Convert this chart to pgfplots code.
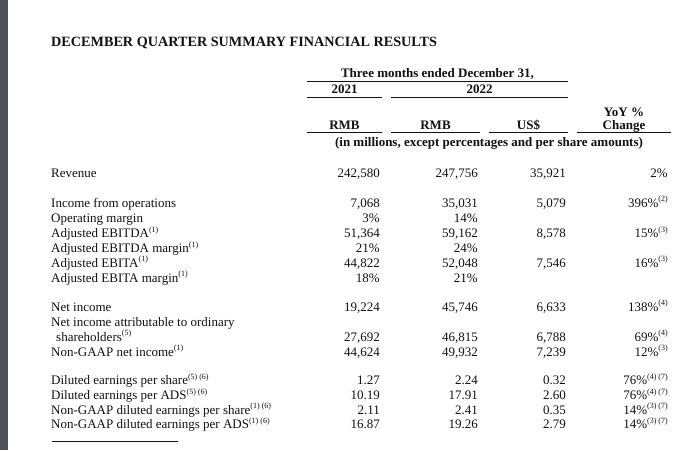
\documentclass[border=0pt]{standalone}
\usepackage{pgfplots}
\pgfplotsset{compat=1.18}
\usepackage{fontspec}
\setmainfont{Liberation Serif}
\definecolor{band}{RGB}{78,82,86}
\definecolor{txt}{RGB}{18,18,18}
\newcommand\sps[1]{\raisebox{0.42em}{\fontsize{8}{8}\selectfont #1}}
\tikzset{
  lab/.style={anchor=base west,inner sep=0pt,text=txt,font=\fontsize{13}{15}\selectfont},
  num/.style={anchor=base east,inner sep=0pt,text=txt,font=\fontsize{13}{15}\selectfont},
  hd/.style={anchor=base,inner sep=0pt,text=txt,font=\bfseries\fontsize{13}{15}\selectfont},
  rl/.style={line width=0.9pt,draw=txt}
}
\newcommand\row[5]{%
  \node[num] at (axis cs:380,#1) {#2};
  \node[num] at (axis cs:478,#1) {#3};
  \node[num] at (axis cs:566,#1) {#4};
  \node[num] at (axis cs:668,#1) {#5};}
\begin{document}
\begin{tikzpicture}
\begin{axis}[width=700pt,height=450pt,scale only axis,xmin=0,xmax=700,ymin=0,ymax=450,
  y dir=reverse,hide axis,clip=false]
\fill[white] (axis cs:0,0) rectangle (axis cs:700,450);
\fill[band] (axis cs:0,0) rectangle (axis cs:8,450);
% title
\node[anchor=base west,inner sep=0pt,text=txt,font=\bfseries\fontsize{14.2}{16}\selectfont] at (axis cs:51,46) {DECEMBER QUARTER SUMMARY FINANCIAL RESULTS};
% header
\node[hd] at (axis cs:437.5,77.5) {Three months ended December 31,};
\draw[rl] (axis cs:307,81.7) -- (axis cs:568,81.7);
\node[hd] at (axis cs:344.5,93.5) {2021};
\node[hd] at (axis cs:479.5,93.5) {2022};
\draw[rl] (axis cs:307,97.3) -- (axis cs:382,97.3);
\draw[rl] (axis cs:391,97.3) -- (axis cs:568,97.3);
\node[hd] at (axis cs:624,116) {YoY \%};
\node[hd] at (axis cs:344.5,129.5) {RMB};
\node[hd] at (axis cs:435.5,129.5) {RMB};
\node[hd] at (axis cs:528.5,129.5) {US\$};
\node[hd] at (axis cs:624,129.5) {Change};
\draw[rl] (axis cs:307,132.7) -- (axis cs:382,132.7);
\draw[rl] (axis cs:391,132.7) -- (axis cs:480,132.7);
\draw[rl] (axis cs:489,132.7) -- (axis cs:568,132.7);
\draw[rl] (axis cs:577,132.7) -- (axis cs:671,132.7);
\node[hd] at (axis cs:489,146) {(in millions, except percentages and per share amounts)};
% labels
\node[lab] at (axis cs:51,177) {Revenue};
\node[lab] at (axis cs:51,207) {Income from operations};
\node[lab] at (axis cs:51,222) {Operating margin};
\node[lab] at (axis cs:51,237.5) {Adjusted EBITDA\sps{(1)}};
\node[lab] at (axis cs:51,252.5) {Adjusted EBITDA margin\sps{(1)}};
\node[lab] at (axis cs:51,267) {Adjusted EBITA\sps{(1)}};
\node[lab] at (axis cs:51,282) {Adjusted EBITA margin\sps{(1)}};
\node[lab] at (axis cs:51,311) {Net income};
\node[lab] at (axis cs:51,326) {Net income attributable to ordinary};
\node[lab] at (axis cs:56,341) {shareholders\sps{(5)}};
\node[lab] at (axis cs:51,356) {Non-GAAP net income\sps{(1)}};
\node[lab] at (axis cs:51,384.5) {Diluted earnings per share\sps{(5) (6)}};
\node[lab] at (axis cs:51,399.5) {Diluted earnings per ADS\sps{(5) (6)}};
\node[lab] at (axis cs:51,414) {Non-GAAP diluted earnings per share\sps{(1) (6)}};
\node[lab] at (axis cs:51,428.5) {Non-GAAP diluted earnings per ADS\sps{(1) (6)}};
\draw[line width=0.8pt,draw=txt] (axis cs:52,441.5) -- (axis cs:178,441.5);
% values
\row{177}{242,580}{247,756}{35,921}{2\%}
\row{207}{7,068}{35,031}{5,079}{396\%\sps{(2)}}
\row{222}{3\%}{14\%}{}{}
\row{237.5}{51,364}{59,162}{8,578}{15\%\sps{(3)}}
\row{252.5}{21\%}{24\%}{}{}
\row{267}{44,822}{52,048}{7,546}{16\%\sps{(3)}}
\row{282}{18\%}{21\%}{}{}
\row{311}{19,224}{45,746}{6,633}{138\%\sps{(4)}}
\row{341}{27,692}{46,815}{6,788}{69\%\sps{(4)}}
\row{356}{44,624}{49,932}{7,239}{12\%\sps{(3)}}
\row{384.5}{1.27}{2.24}{0.32}{76\%\sps{(4) (7)}}
\row{399.5}{10.19}{17.91}{2.60}{76\%\sps{(4) (7)}}
\row{414}{2.11}{2.41}{0.35}{14\%\sps{(3) (7)}}
\row{428.5}{16.87}{19.26}{2.79}{14\%\sps{(3) (7)}}
\end{axis}
\end{tikzpicture}
\end{document}
